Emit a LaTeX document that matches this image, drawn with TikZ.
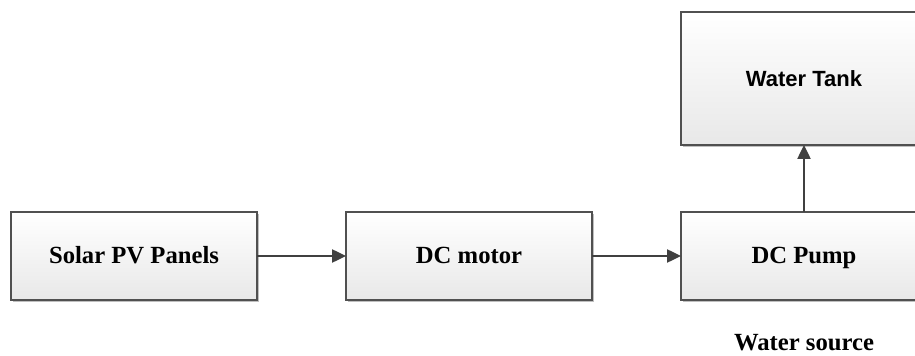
\documentclass[tikz,border=0pt]{standalone}
\usepackage{fontspec}
\setmainfont{Liberation Serif}
\newfontfamily\boxsans{Liberation Sans}
\usetikzlibrary{arrows.meta,shadows}
\definecolor{edge}{HTML}{505050}
\definecolor{arr}{HTML}{404040}
\tikzset{
  blockbox/.style={draw=edge, line width=1pt, rectangle, inner sep=0pt, outer sep=0pt,
    minimum width=184.5pt, minimum height=66pt, text height=14pt, text depth=2pt,
    top color=white, bottom color=black!9,
    drop shadow={shadow xshift=1.8pt, shadow yshift=-1.8pt, opacity=0.25, fill=black},
    font=\fontsize{18.5}{20}\selectfont\bfseries},
  flow/.style={draw=arr, line width=1pt, -{Triangle[length=10.5pt,width=10pt]}}
}
\begin{document}
\begin{tikzpicture}[x=0.75pt,y=-0.75pt]
\useasboundingbox (0,0) rectangle (915,356);
\clip (0,0) rectangle (915,356);
\node[blockbox] (solar) at (134,256) {Solar PV Panels};
\node[blockbox] (motor) at (469,256) {DC motor};
\node[blockbox] (pump) at (804,256) {DC Pump};
\node[blockbox, minimum height=99.75pt, font=\boxsans\fontsize{16.5}{18}\selectfont\bfseries] (tank) at (804,78.5) {Water Tank};
\node[font=\fontsize{18.5}{20}\selectfont\bfseries] (src) at (804,343) {Water source};
\draw[flow] (solar) -- (motor);
\draw[flow] (motor) -- (pump);
\draw[flow] (pump) -- (tank);
\end{tikzpicture}
\end{document}
